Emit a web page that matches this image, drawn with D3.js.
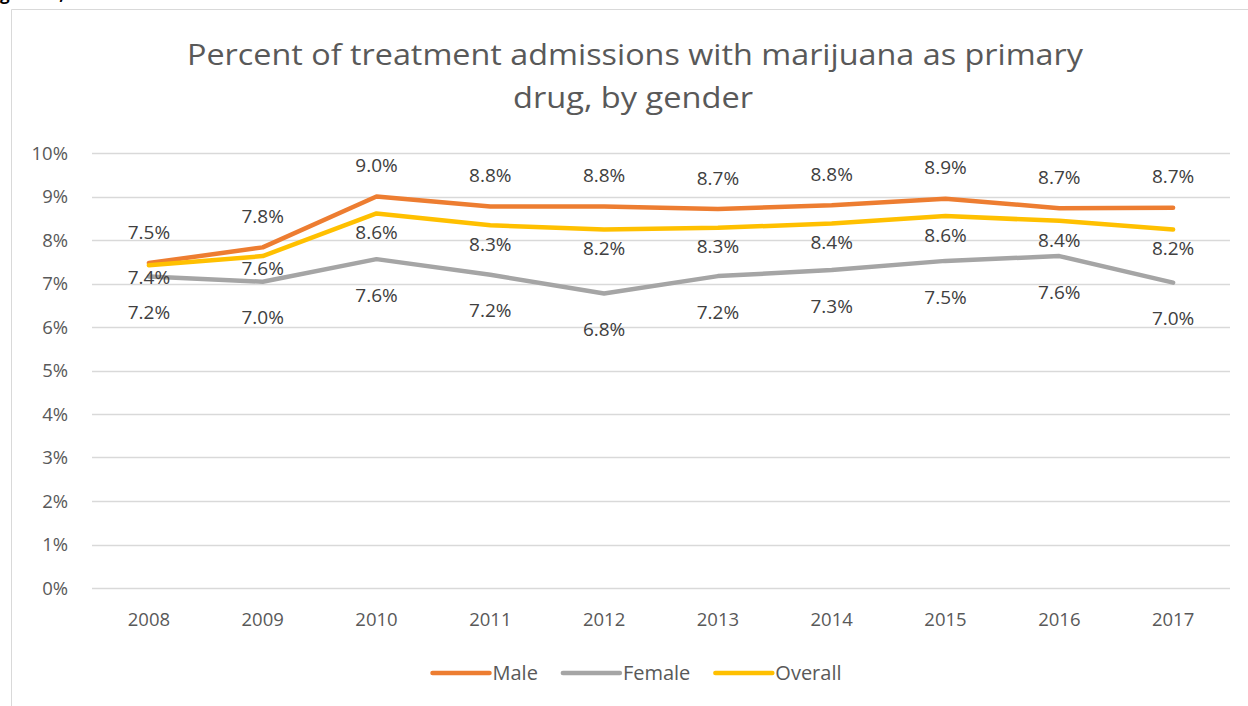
<!DOCTYPE html>
<html>
<head>
<meta charset="utf-8">
<script src="https://cdn.jsdelivr.net/npm/d3@7"></script>
<style>
  html, body { margin: 0; padding: 0; background: #fff; }
  svg { display: block; }
  text { font-family: "Open Sans", "Noto Sans", sans-serif; }
</style>
</head>
<body>
<svg id="chart" width="1248" height="706"></svg>
<script>
const years = ["2008","2009","2010","2011","2012","2013","2014","2015","2016","2017"];
const male    = [7.47, 7.83, 9.00, 8.77, 8.77, 8.71, 8.80, 8.95, 8.73, 8.74];
const female  = [7.16, 7.04, 7.56, 7.20, 6.77, 7.17, 7.31, 7.52, 7.63, 7.02];
const overall = [7.42, 7.63, 8.61, 8.34, 8.24, 8.28, 8.38, 8.55, 8.44, 8.24];
const yTicks  = [0,1,2,3,4,5,6,7,8,9,10];
const seriesNames = ["Male","Female","Overall"];
const titleLines = ["Percent of treatment admissions with marijuana as primary", "drug, by gender"];
const caption = "gender, 2008-2017";

const colors = {Male: "#ED7D31", Female: "#A5A5A5", Overall: "#FFC000"};
const labelOffset = {Male: -31, Female: 36, Overall: 19};

const svg = d3.select("#chart");

// top cut-off caption (only its lower edge shows, as in the reference)
svg.append("text").attr("x", 0).attr("y", 0)
  .attr("font-family", "Liberation Sans, Arial, sans-serif")
  .attr("font-weight", "bold").attr("font-size", 17).attr("fill", "#000")
  .text(caption);

// chart frame
svg.append("path")
  .attr("d", "M11.5,706 V9.5 H1260")
  .attr("fill", "none").attr("stroke", "#D9D9D9").attr("stroke-width", 1);

const x = d3.scaleBand().domain(years).range([92, 1230]);
const y = d3.scaleLinear().domain([0, 10]).range([588, 153]);

// title
const titleG = svg.append("g");
titleG.append("text").attr("x", 635).attr("y", 65).attr("text-anchor", "middle")
  .attr("font-size", 29).attr("fill", "#595959")
  .attr("textLength", 896).attr("lengthAdjust", "spacingAndGlyphs")
  .text(titleLines[0]);
titleG.append("text").attr("x", 633).attr("y", 108).attr("text-anchor", "middle")
  .attr("font-size", 29).attr("fill", "#595959")
  .attr("textLength", 240).attr("lengthAdjust", "spacingAndGlyphs")
  .text(titleLines[1]);

// gridlines
svg.append("g").selectAll("line").data(yTicks).join("line")
  .attr("x1", 92).attr("x2", 1230)
  .attr("y1", d => Math.round(y(d)) + 0.5).attr("y2", d => Math.round(y(d)) + 0.5)
  .attr("stroke", "#D9D9D9").attr("stroke-width", 1.3);

// y axis
const yAxis = d3.axisLeft(y).tickValues(yTicks).tickFormat(d => d + "%").tickSize(0).tickPadding(0);
const yg = svg.append("g").attr("transform", "translate(68,0)").call(yAxis);
yg.select(".domain").remove();
yg.selectAll("text").attr("font-size", 18.5).attr("fill", "#595959")
  .attr("font-family", "Open Sans, sans-serif").attr("dy", "0.35em");

// x axis
const xAxis = d3.axisBottom(x).tickSize(0).tickPadding(0);
const xg = svg.append("g").attr("transform", "translate(0,620)").call(xAxis);
xg.select(".domain").remove();
xg.selectAll("text").attr("font-size", 18.5).attr("fill", "#595959")
  .attr("font-family", "Open Sans, sans-serif").attr("dy", "0.35em");

const data = {Male: male, Female: female, Overall: overall};
const line = d3.line().x((d, i) => x(years[i]) + x.bandwidth() / 2).y(d => y(d));

const linesG = svg.append("g");
seriesNames.forEach(name => {
  linesG.append("path").datum(data[name])
    .attr("d", line).attr("fill", "none")
    .attr("stroke", colors[name]).attr("stroke-width", 4.5)
    .attr("stroke-linejoin", "round").attr("stroke-linecap", "round");
});

// data labels
const labelsG = svg.append("g");
seriesNames.forEach(name => {
  labelsG.selectAll(null).data(data[name]).join("text")
    .attr("x", (d, i) => x(years[i]) + x.bandwidth() / 2)
    .attr("y", (d, i) => y(d) + labelOffset[name] - (name === "Overall" && i < 2 ? 7 : 0))
    .attr("dy", "0.35em").attr("text-anchor", "middle")
    .attr("font-size", 19).attr("fill", "#404040")
    .text(d => d3.format(".1f")(d) + "%");
});

// legend
const legendG = svg.append("g");
let lx = 0;
seriesNames.forEach(name => {
  const g = legendG.append("g");
  g.append("line").attr("x1", 0).attr("x2", 57).attr("y1", 0).attr("y2", 0)
    .attr("stroke", colors[name]).attr("stroke-width", 4.5).attr("stroke-linecap", "round");
  const t = g.append("text").attr("x", 60).attr("y", 0).attr("dy", "0.35em")
    .attr("font-size", 20).attr("fill", "#595959").text(name);
  const w = 60 + t.node().getComputedTextLength();
  g.attr("transform", `translate(${lx},0)`);
  lx += w + 25;
});
const totalW = lx - 25;
legendG.attr("transform", `translate(${637 - totalW / 2},673)`);
</script>
</body>
</html>
